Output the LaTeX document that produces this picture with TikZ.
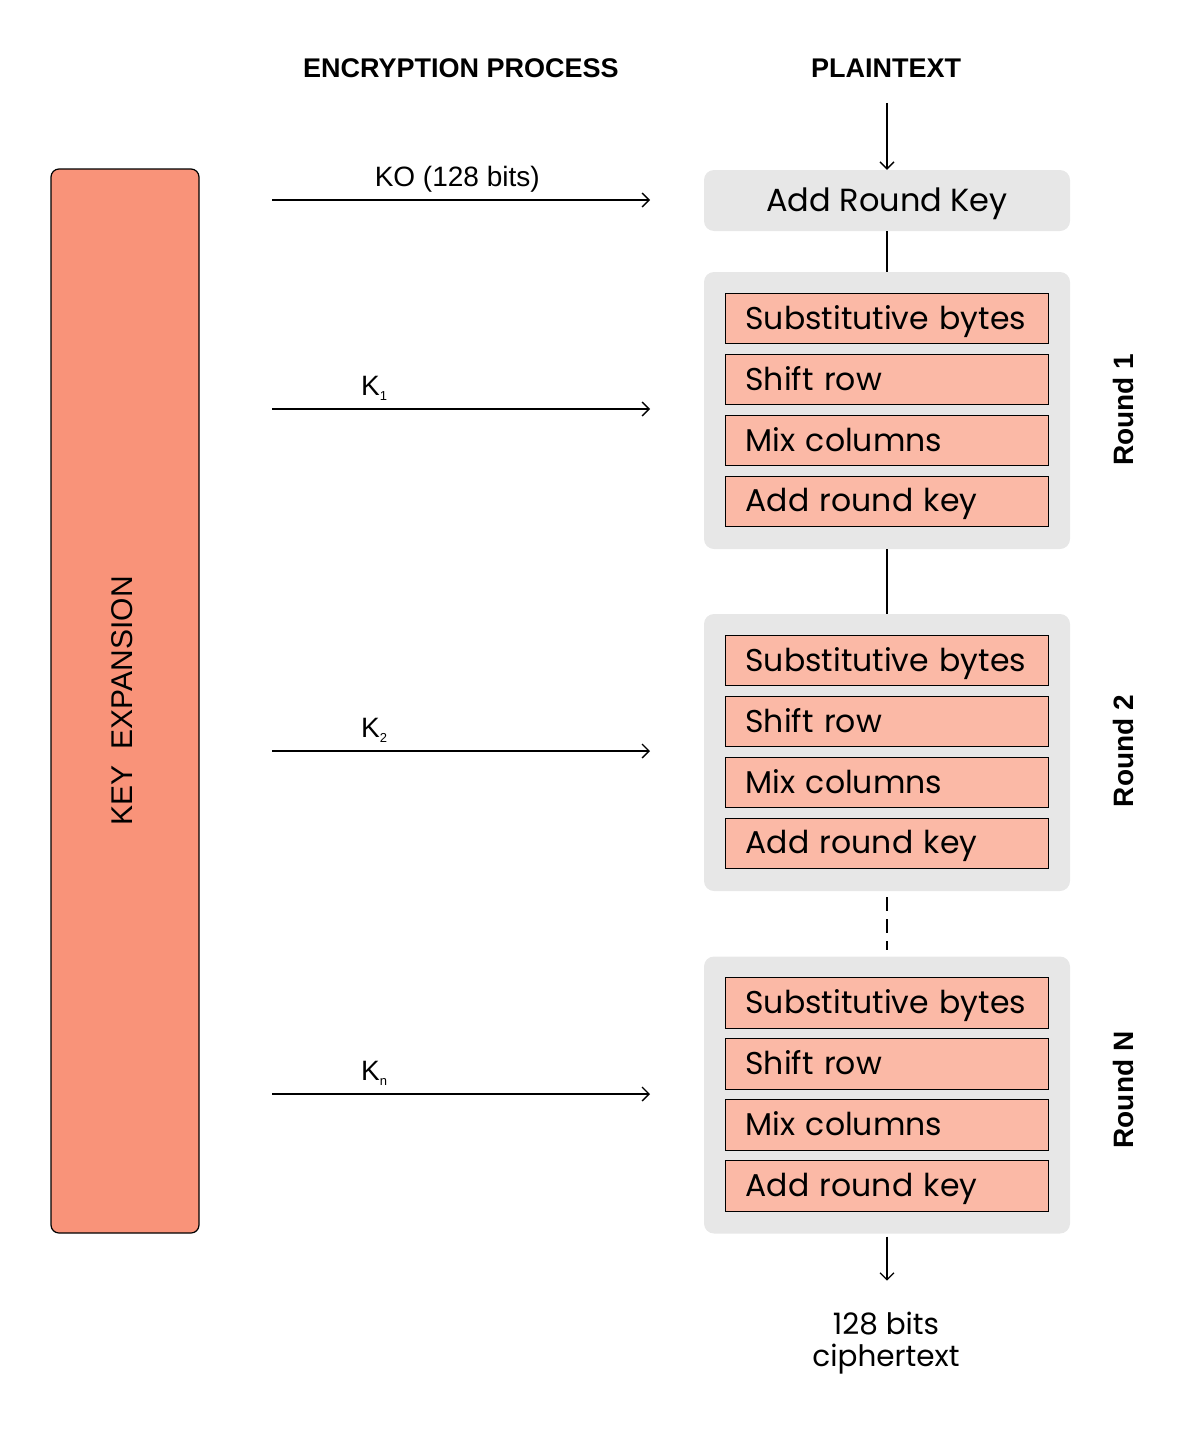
\documentclass[tikz,border=0pt]{standalone}
\usepackage{fontspec}
\setmainfont{Poppins}
\newfontfamily\labelfont{Liberation Sans}
\usetikzlibrary{positioning,arrows.meta}
\definecolor{keysalmon}{HTML}{F99379}
\definecolor{stagepink}{HTML}{FBB9A6}
\definecolor{roundgray}{HTML}{E7E7E7}

\begin{document}
\begin{tikzpicture}[
    x=1pt, y=-1pt,
    node distance=10pt,
    round box/.style={
        fill=roundgray,
        rounded corners=10pt,
        minimum width=366pt,
        minimum height=277pt,
        inner sep=0pt
    },
    stage box/.style={
        draw,
        fill=stagepink,
        minimum width=323pt,
        minimum height=50.5pt,
        text width=283pt,
        text height=22pt,
        text depth=0pt,
        inner xsep=20pt,
        inner ysep=0pt,
        align=left,
        font=\fontsize{31.5}{36}\selectfont
    },
    heading/.style={font=\labelfont\bfseries\fontsize{27}{32}\selectfont},
    side label/.style={rotate=90, font=\labelfont\bfseries\fontsize{28}{32}\selectfont},
    key label/.style={font=\labelfont\fontsize{28}{32}\selectfont},
    arrow/.style={-{Straight Barb[length=7pt, width=14pt]}, line width=1.3pt}
]
\useasboundingbox (0,0) rectangle (1180,1435);

% key expansion column
\node[draw, line width=1.2pt, fill=keysalmon, rounded corners=8pt,
      minimum width=148pt, minimum height=1064pt] (keyexp) at (125,701) {};
\node[rotate=90, font=\labelfont\fontsize{30}{34}\selectfont] at (122,701) {KEY\ \ EXPANSION};

% headings
\node[heading] (encproc) at (461,68) {ENCRYPTION PROCESS};
\node[heading] (plain) at (886,68) {PLAINTEXT};

% initial round key
\node[fill=roundgray, rounded corners=10pt, minimum width=366pt, minimum height=61pt,
      text height=22.5pt, text depth=0pt,
      font=\fontsize{32}{36}\selectfont] (ark) at (887,200.5) {Add Round Key};

% rounds
\node[round box] (r1) at (887,410.5) {};
\node[round box] (r2) at (887,752.5) {};
\node[round box] (rn) at (887,1095) {};

\node[stage box, below=21pt of r1.north] (sb1) {Substitutive bytes};
\node[stage box, below=of sb1] (sr1) {Shift row};
\node[stage box, below=of sr1] (mc1) {Mix columns};
\node[stage box, below=of mc1] (ak1) {Add round key};

\node[stage box, below=21pt of r2.north] (sb2) {Substitutive bytes};
\node[stage box, below=of sb2] (sr2) {Shift row};
\node[stage box, below=of sr2] (mc2) {Mix columns};
\node[stage box, below=of mc2] (ak2) {Add round key};

\node[stage box, below=21pt of rn.north] (sbn) {Substitutive bytes};
\node[stage box, below=of sbn] (srn) {Shift row};
\node[stage box, below=of srn] (mcn) {Mix columns};
\node[stage box, below=of mcn] (akn) {Add round key};

\node[side label] at (1123,410) {Round 1};
\node[side label] at (1123,751) {Round 2};
\node[side label] at (1123,1090) {Round N};

% output
\node[align=center, font=\fontsize{29.5}{32.5}\selectfont] (cipher) at (886,1343) {128 bits\\ciphertext};

% connectors down the right column
\draw[arrow] ([yshift=-22pt]plain.south -| ark.north) -- (ark.north);
\draw[line width=1.3pt] (ark.south) -- (r1.north);
\draw[line width=1.3pt] (r1.south) -- (r2.north);
\draw[line width=1.3pt, dash pattern=on 14pt off 8pt, shorten <=6pt, shorten >=6pt] (r2.south) -- (rn.north);
\draw[arrow, shorten <=3pt] (rn.south) -- ([yshift=-47pt]rn.south);

% round keys
\coordinate (k0s) at (272,200);   \coordinate (k0e) at (650,200);
\coordinate (k1s) at (272,409);   \coordinate (k1e) at (650,409);
\coordinate (k2s) at (272,751);   \coordinate (k2e) at (650,751);
\coordinate (kns) at (272,1094);  \coordinate (kne) at (650,1094);

\draw[arrow] (k0s) -- node[key label, above, pos=0.49, yshift=4pt] {KO (128 bits)} (k0e);
\draw[arrow] (k1s) -- node[key label, above, pos=0.27, yshift=5pt] {K{\fontsize{13}{14}\selectfont\raisebox{-5pt}{1}}} (k1e);
\draw[arrow] (k2s) -- node[key label, above, pos=0.27, yshift=5pt] {K{\fontsize{13}{14}\selectfont\raisebox{-5pt}{2}}} (k2e);
\draw[arrow] (kns) -- node[key label, above, pos=0.27, yshift=5pt] {K{\fontsize{13}{14}\selectfont\raisebox{-5pt}{n}}} (kne);

\end{tikzpicture}
\end{document}
